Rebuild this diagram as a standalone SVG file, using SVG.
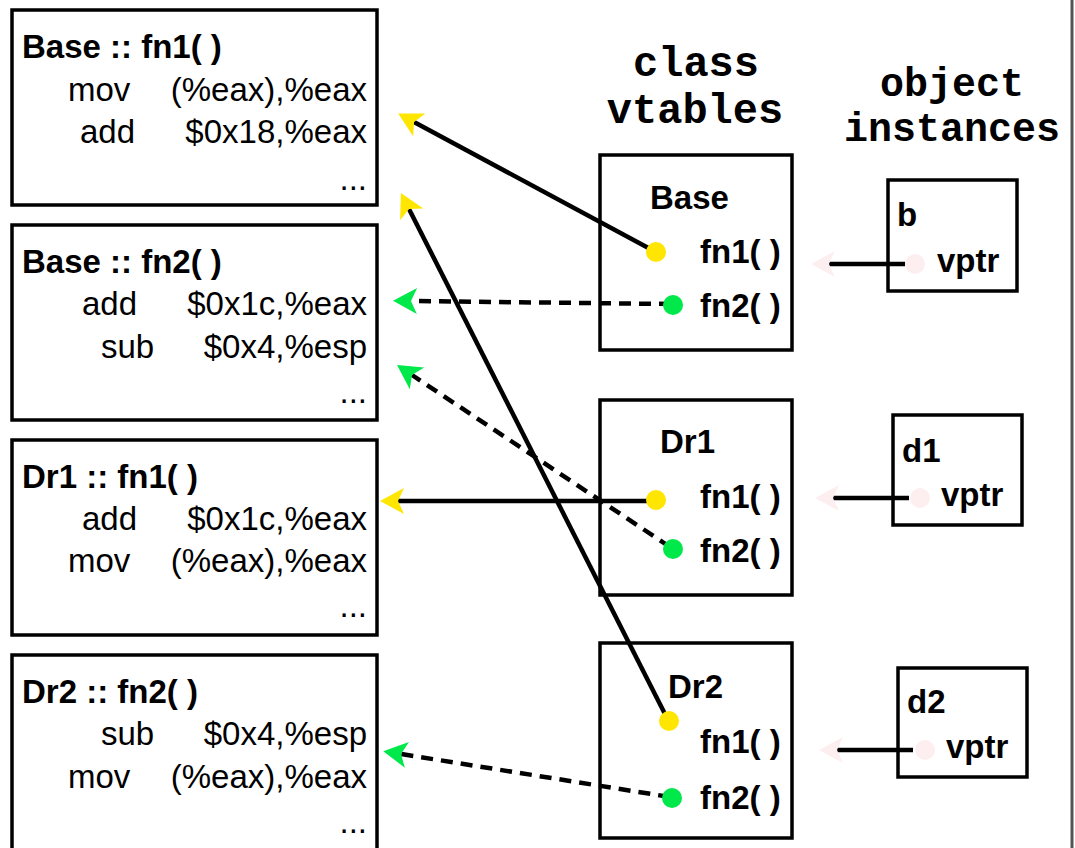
<svg xmlns="http://www.w3.org/2000/svg" width="1075" height="848" viewBox="0 0 1075 848">
<style>
.box{fill:#fff;stroke:#000;stroke-width:3.5}
.t{font-family:"Liberation Sans",Arial,sans-serif;font-weight:bold;font-size:33px;fill:#000}
.c{font-family:"Liberation Sans",Arial,sans-serif;font-size:33px;fill:#000}
.e{text-anchor:end}
.h{font-family:"Liberation Mono","Courier New",monospace;font-weight:bold;fill:#000;text-anchor:middle}
.ln{fill:none;stroke:#000;stroke-width:4.5}
.dash{stroke-dasharray:12 8}
.y{fill:#ffe600}
.g{fill:#00e84a}
.p{fill:#fdeef0}
</style>
<defs>
<marker id="ay" markerUnits="userSpaceOnUse" markerWidth="40" markerHeight="40" viewBox="-10 -20 40 40" refX="0" refY="0" orient="auto"><path d="M18,0 L-6,-13 L0,0 L-6,13 Z" fill="#ffe600"/></marker>
<marker id="ag" markerUnits="userSpaceOnUse" markerWidth="40" markerHeight="40" viewBox="-10 -20 40 40" refX="0" refY="0" orient="auto"><path d="M18,0 L-6,-13 L0,0 L-6,13 Z" fill="#00e84a"/></marker>
<marker id="ap" markerUnits="userSpaceOnUse" markerWidth="40" markerHeight="40" viewBox="-10 -20 40 40" refX="0" refY="0" orient="auto"><path d="M18,0 L-6,-13 L0,0 L-6,13 Z" fill="#fdeef0"/></marker>
</defs>
<rect width="1075" height="848" fill="#fff"/>
<line x1="1072" y1="0" x2="1072" y2="848" stroke="#555" stroke-width="3"/>

<g id="headers">
<text class="h" x="696" y="76" font-size="42">class</text>
<text class="h" x="695" y="123" font-size="42">vtables</text>
<text class="h" x="952" y="96" font-size="40">object</text>
<text class="h" x="952" y="141" font-size="40">instances</text>
</g>

<g id="code-base-fn1">
<rect class="box" x="12" y="10" width="365" height="195"/>
<text class="t" x="22" y="58">Base :: fn1( )</text>
<text class="c" x="68" y="101">mov</text><text class="c e" x="367" y="101">(%eax),%eax</text>
<text class="c" x="80" y="143">add</text><text class="c e" x="367" y="143">$0x18,%eax</text>
<text class="c e" x="367" y="190">...</text>
</g>
<g id="code-base-fn2">
<rect class="box" x="12" y="225" width="365" height="195"/>
<text class="t" x="22" y="273">Base :: fn2( )</text>
<text class="c" x="82" y="315">add</text><text class="c e" x="367" y="315">$0x1c,%eax</text>
<text class="c" x="101" y="358">sub</text><text class="c e" x="367" y="358">$0x4,%esp</text>
<text class="c e" x="367" y="403">...</text>
</g>
<g id="code-dr1-fn1">
<rect class="box" x="12" y="440" width="365" height="195"/>
<text class="t" x="22" y="488">Dr1 :: fn1( )</text>
<text class="c" x="82" y="530">add</text><text class="c e" x="367" y="530">$0x1c,%eax</text>
<text class="c" x="68" y="572">mov</text><text class="c e" x="367" y="572">(%eax),%eax</text>
<text class="c e" x="367" y="617">...</text>
</g>
<g id="code-dr2-fn2">
<rect class="box" x="12" y="655" width="365" height="205"/>
<text class="t" x="22" y="703">Dr2 :: fn2( )</text>
<text class="c" x="101" y="745">sub</text><text class="c e" x="367" y="745">$0x4,%esp</text>
<text class="c" x="68" y="788">mov</text><text class="c e" x="367" y="788">(%eax),%eax</text>
<text class="c e" x="367" y="833">...</text>
</g>

<g id="vtable-base">
<rect class="box" x="600" y="155" width="192" height="195"/>
<text class="t" x="650" y="209">Base</text>
<text class="t" x="700" y="263">fn1( )</text>
<text class="t" x="700" y="317">fn2( )</text>
</g>
<g id="vtable-dr1">
<rect class="box" x="600" y="400" width="192" height="195"/>
<text class="t" x="660" y="453">Dr1</text>
<text class="t" x="700" y="508">fn1( )</text>
<text class="t" x="700" y="562">fn2( )</text>
</g>
<g id="vtable-dr2">
<rect class="box" x="600" y="643" width="192" height="195"/>
<text class="t" x="668" y="698">Dr2</text>
<text class="t" x="700" y="753">fn1( )</text>
<text class="t" x="700" y="809">fn2( )</text>
</g>

<g id="obj-b">
<rect class="box" x="888" y="180" width="129" height="111"/>
<text class="t" x="897" y="226">b</text>
<text class="t" x="937" y="272">vptr</text>
</g>
<g id="obj-d1">
<rect class="box" x="893" y="415" width="129" height="110"/>
<text class="t" x="902" y="462">d1</text>
<text class="t" x="941" y="506">vptr</text>
</g>
<g id="obj-d2">
<rect class="box" x="898" y="668" width="129" height="109"/>
<text class="t" x="907" y="713">d2</text>
<text class="t" x="946" y="758">vptr</text>
</g>

<g id="connectors">
<line class="ln" x1="654" y1="251" x2="414" y2="122" marker-end="url(#ay)"/>
<line class="ln" x1="667" y1="718" x2="409" y2="209" marker-end="url(#ay)"/>
<line class="ln dash" x1="671" y1="304" x2="411" y2="301" marker-end="url(#ag)"/>
<line class="ln dash" x1="670" y1="547" x2="412" y2="375" marker-end="url(#ag)"/>
<line class="ln" x1="654" y1="501" x2="398" y2="501" marker-end="url(#ay)"/>
<line class="ln dash" x1="670" y1="797" x2="401" y2="754" marker-end="url(#ag)"/>
<line class="ln" x1="905" y1="264" x2="829" y2="264" marker-end="url(#ap)"/>
<line class="ln" x1="909" y1="498" x2="833" y2="498" marker-end="url(#ap)"/>
<line class="ln" x1="913" y1="750" x2="837" y2="750" marker-end="url(#ap)"/>
<circle class="y" cx="656" cy="252" r="10"/>
<circle class="g" cx="673" cy="305" r="10"/>
<circle class="y" cx="656" cy="500" r="10"/>
<circle class="g" cx="673" cy="549" r="10"/>
<circle class="y" cx="669" cy="721" r="10"/>
<circle class="g" cx="672" cy="798" r="10"/>
<circle class="p" cx="915" cy="264" r="10"/>
<circle class="p" cx="920" cy="498" r="10"/>
<circle class="p" cx="925" cy="750" r="10"/>
</g>
</svg>
